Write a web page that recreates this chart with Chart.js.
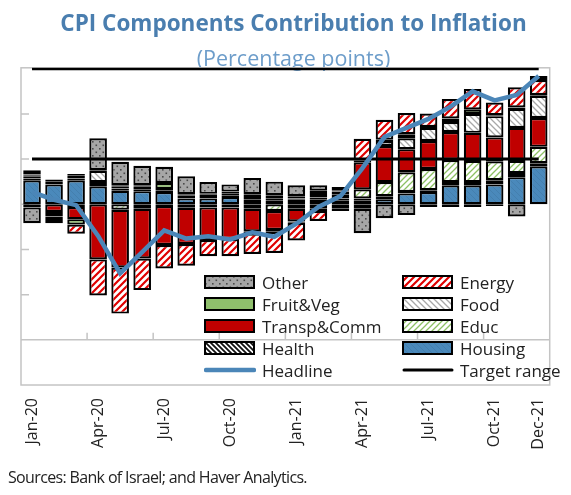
<!DOCTYPE html>
<html>
<head>
<meta charset="utf-8">
<script src="https://cdn.jsdelivr.net/npm/chart.js@4.4.1/dist/chart.umd.min.js"></script>
<style>
  html, body { margin: 0; padding: 0; background: #fff; }
  #wrap { position: relative; width: 571px; height: 495px; }
  #legend { position: absolute; left: 0; top: 0; font-family: "Open Sans"; font-size: 17px; color: #222; }
  .item { position: absolute; height: 22px; display: flex; align-items: center; white-space: nowrap; }
  .item canvas { margin-right: 6px; }
  #source { position: absolute; left: 8px; top: 466px; font-family: "Open Sans"; font-size: 16px; letter-spacing: -0.65px; color: #222; white-space: nowrap; }
</style>
</head>
<body>
<div id="wrap">
  <canvas id="cpiChart" width="571" height="495"></canvas>
  <div id="legend"></div>
  <div id="source">Sources: Bank of Israel; and Haver Analytics.</div>
</div>
<script>
// months on the category axis
const months = ['Jan-20', 'Feb-20', 'Mar-20', 'Apr-20', 'May-20', 'Jun-20', 'Jul-20', 'Aug-20',
  'Sep-20', 'Oct-20', 'Nov-20', 'Dec-20', 'Jan-21', 'Feb-21', 'Mar-21', 'Apr-21', 'May-21',
  'Jun-21', 'Jul-21', 'Aug-21', 'Sep-21', 'Oct-21', 'Nov-21', 'Dec-21'];

// contributions, percentage points
const housing = [0.53, 0.44, 0.53, 0.40, 0.30, 0.29, 0.27, 0.13, 0.13, 0.16, 0.10, 0.08,
  0.10, 0.10, 0.08, 0.09, 0.11, 0.24, 0.27, 0.42, 0.42, 0.44, 0.60, 0.84];
const health = [0.04, 0.03, 0.04, 0.05, 0.05, 0.04, 0.04, 0.03, 0.03, 0.03, 0.04, 0.04,
  0.03, 0.05, 0.05, 0.04, 0.07, 0.03, 0.04, 0.07, 0.07, 0.09, 0.09, 0.07];
const educ = [0.04, 0.04, -0.06, 0.04, -0.12, -0.10, -0.04, -0.08, -0.07, -0.07, -0.10, -0.15,
  -0.10, -0.10, 0.08, 0.20, 0.31, 0.44, 0.47, 0.49, 0.47, 0.42, 0.27, 0.36];
const transp = [0.02, -0.17, -0.27, -1.22, -1.28, -1.10, -0.86, -0.80, -0.72, -0.70, -0.50, -0.42,
  -0.28, -0.05, -0.10, 0.60, 0.80, 0.51, 0.62, 0.62, 0.62, 0.53, 0.73, 0.64];
const food = [0.03, 0.04, 0.06, 0.25, 0.05, 0.07, 0.03, 0.04, 0.05, 0.04, -0.05, -0.04,
  -0.03, 0.10, 0.07, 0.04, 0.11, 0.24, 0.29, 0.22, 0.42, 0.47, 0.42, 0.49];
const fruitVeg = [-0.07, -0.10, -0.12, 0.02, 0.02, 0.02, 0.13, 0.02, 0.02, 0.05, 0.08, 0.08,
  0.05, 0.05, 0.03, -0.10, 0.03, 0.09, 0.02, 0.08, 0.10, 0.02, 0.03, 0.02];
const energy = [0.09, -0.08, -0.20, -0.80, -1.02, -0.70, -0.52, -0.48, -0.36, -0.38, -0.45, -0.47,
  -0.39, -0.22, -0.05, 0.48, 0.44, 0.47, 0.30, 0.43, 0.45, 0.28, 0.45, 0.33];
const other = [-0.35, -0.07, 0.04, 0.70, 0.52, 0.43, 0.36, 0.40, 0.26, 0.16, 0.36, 0.30,
  0.24, 0.12, 0.07, -0.54, -0.31, -0.24, -0.06, -0.06, -0.06, -0.04, -0.27, 0.09];
const headline = [0.27, 0.10, -0.02, -0.70, -1.53, -1.06, -0.58, -0.76, -0.71, -0.78, -0.62, -0.72,
  -0.43, -0.06, 0.18, 0.80, 1.49, 1.69, 1.89, 2.16, 2.50, 2.30, 2.42, 2.84];

// inflation target range
const targetLow = 1;
const targetHigh = 3;

// value axis
const yMin = -4;
const yMax = 3.02;
const yTicks = [2, 1, 0, -1, -2, -3];
const axisCross = -3;

// hatch fills like the Excel patterns
function makePattern(bg, fg, kind, size, lw) {
  const c = document.createElement('canvas');
  c.width = size; c.height = size;
  const g = c.getContext('2d');
  g.fillStyle = bg;
  g.fillRect(0, 0, size, size);
  g.strokeStyle = fg;
  g.fillStyle = fg;
  g.lineWidth = lw;
  g.beginPath();
  if (kind === 'up') {
    g.moveTo(-1, size + 1); g.lineTo(size + 1, -1);
    g.moveTo(-1, 1); g.lineTo(1, -1);
    g.moveTo(size - 1, size + 1); g.lineTo(size + 1, size - 1);
    g.stroke();
  } else if (kind === 'down') {
    g.moveTo(-1, -1); g.lineTo(size + 1, size + 1);
    g.moveTo(size - 1, -1); g.lineTo(size + 1, 1);
    g.moveTo(-1, size - 1); g.lineTo(1, size + 1);
    g.stroke();
  } else if (kind === 'dots') {
    g.fillRect(1, 1, lw, lw);
    g.fillRect(size / 2 + 1, size / 2 + 1, lw, lw);
  }
  return g.createPattern(c, 'repeat');
}

const fills = {
  housing: makePattern('#4a89bb', '#447fae', 'down', 6, 1),
  health: makePattern('#ffffff', '#111111', 'down', 5, 1.8),
  educ: makePattern('#ffffff', '#8cc063', 'up', 6, 1.3),
  transp: '#c00000',
  food: makePattern('#ffffff', '#a8a8a8', 'down', 6, 1.3),
  fruitVeg: '#8fbf6c',
  energy: makePattern('#ffffff', '#e00000', 'up', 7, 2.2),
  other: makePattern('#a6a6a6', '#4a4a4a', 'dots', 7, 1.6)
};

function barSet(label, data, fill) {
  return {
    type: 'bar', label: label, data: data, order: 2,
    backgroundColor: fill, borderColor: '#000', borderWidth: 2.2, borderSkipped: false,
    barPercentage: 0.8, categoryPercentage: 1
  };
}

function lineSet(label, data, color, width, stack) {
  return {
    type: 'line', label: label, data: data, order: 1, stack: stack,
    borderColor: color, backgroundColor: color, borderWidth: width,
    pointRadius: 0, tension: 0, fill: false
  };
}

// stacking order from the zero line outwards
const datasets = [
  lineSet('Headline', headline, '#4b86b8', 4.5, 'headline'),
  lineSet('Target range', months.map(() => targetHigh), '#000', 3, 'high'),
  lineSet('Target low', months.map(() => targetLow), '#000', 3, 'low'),
  barSet('Housing', housing, fills.housing),
  barSet('Health', health, fills.health),
  barSet('Educ', educ, fills.educ),
  barSet('Transp&Comm', transp, fills.transp),
  barSet('Food', food, fills.food),
  barSet('Fruit&Veg', fruitVeg, fills.fruitVeg),
  barSet('Energy', energy, fills.energy),
  barSet('Other', other, fills.other)
];

// box, inside ticks and the category axis crossing at -3
const frame = {
  id: 'frame',
  beforeDatasetsDraw(chart) {
    const { ctx, chartArea: a, scales: { x, y } } = chart;
    ctx.save();
    ctx.strokeStyle = '#c4c4c4';
    ctx.lineWidth = 1.5;
    ctx.strokeRect(a.left, a.top, a.right - a.left, a.bottom - a.top);
    ctx.beginPath();
    yTicks.forEach(v => {
      const py = y.getPixelForValue(v);
      ctx.moveTo(a.left, py);
      ctx.lineTo(a.left + 8, py);
    });
    const base = y.getPixelForValue(axisCross);
    ctx.moveTo(a.left, base);
    ctx.lineTo(a.right, base);
    for (let i = 3; i < months.length; i += 3) {
      const px = (x.getPixelForValue(i - 1) + x.getPixelForValue(i)) / 2;
      ctx.moveTo(px, base);
      ctx.lineTo(px, base - 7);
    }
    ctx.stroke();
    ctx.restore();
  }
};

const ctx = document.getElementById('cpiChart').getContext('2d');
const chart = new Chart(ctx, {
  data: { labels: months, datasets: datasets },
  options: {
    responsive: false,
    animation: false,
    layout: { padding: { left: 21, right: 5, top: 5, bottom: 40 } },
    plugins: {
      legend: { display: false },
      tooltip: { enabled: false },
      title: {
        display: true,
        text: 'CPI Components Contribution to Inflation',
        color: '#4a7eaf',
        font: { family: 'Open Sans', size: 22.5, weight: 'bold' },
        padding: { top: 6, bottom: 9 }
      },
      subtitle: {
        display: true,
        text: '(Percentage points)',
        color: '#6d9dca',
        font: { family: 'Open Sans', size: 21.5 },
        padding: { top: 0, bottom: -5 }
      }
    },
    scales: {
      x: {
        stacked: true,
        grid: { display: false, drawTicks: false },
        border: { display: false },
        ticks: {
          autoSkip: false, maxRotation: 90, minRotation: 90, padding: 13,
          color: '#222', font: { family: 'Open Sans', size: 16 },
          callback: (v, i) => (i % 3 === 0 || i === months.length - 1) ? months[i] : ''
        },
        afterFit: s => { s.height = 70; }
      },
      y: { stacked: true, display: false, min: yMin, max: yMax }
    }
  },
  plugins: [frame]
});

// legend laid out in two columns like the original
const legendOrder = ['Other', 'Energy', 'Fruit&Veg', 'Food', 'Transp&Comm', 'Educ',
  'Health', 'Housing', 'Headline', 'Target range'];
const legendCols = [204, 402];
const legendTop = 271;
const legendRow = 22;
const legendBox = document.getElementById('legend');
legendOrder.forEach((name, k) => {
  const ds = datasets.find(d => d.label === name);
  const item = document.createElement('div');
  item.className = 'item';
  item.style.left = legendCols[k % 2] + 'px';
  item.style.top = (legendTop + Math.floor(k / 2) * legendRow) + 'px';
  const sw = document.createElement('canvas');
  sw.width = 52; sw.height = 14;
  const g = sw.getContext('2d');
  if (ds.type === 'line') {
    g.strokeStyle = ds.borderColor;
    g.lineWidth = ds.borderWidth;
    g.lineCap = 'round';
    g.beginPath(); g.moveTo(2, 7); g.lineTo(50, 7); g.stroke();
  } else {
    g.fillStyle = ds.backgroundColor;
    g.fillRect(1, 1, 49, 12);
    g.strokeStyle = '#000';
    g.lineWidth = 2;
    g.strokeRect(1, 1, 49, 12);
  }
  item.appendChild(sw);
  item.appendChild(document.createTextNode(name));
  legendBox.appendChild(item);
});
</script>
</body>
</html>
